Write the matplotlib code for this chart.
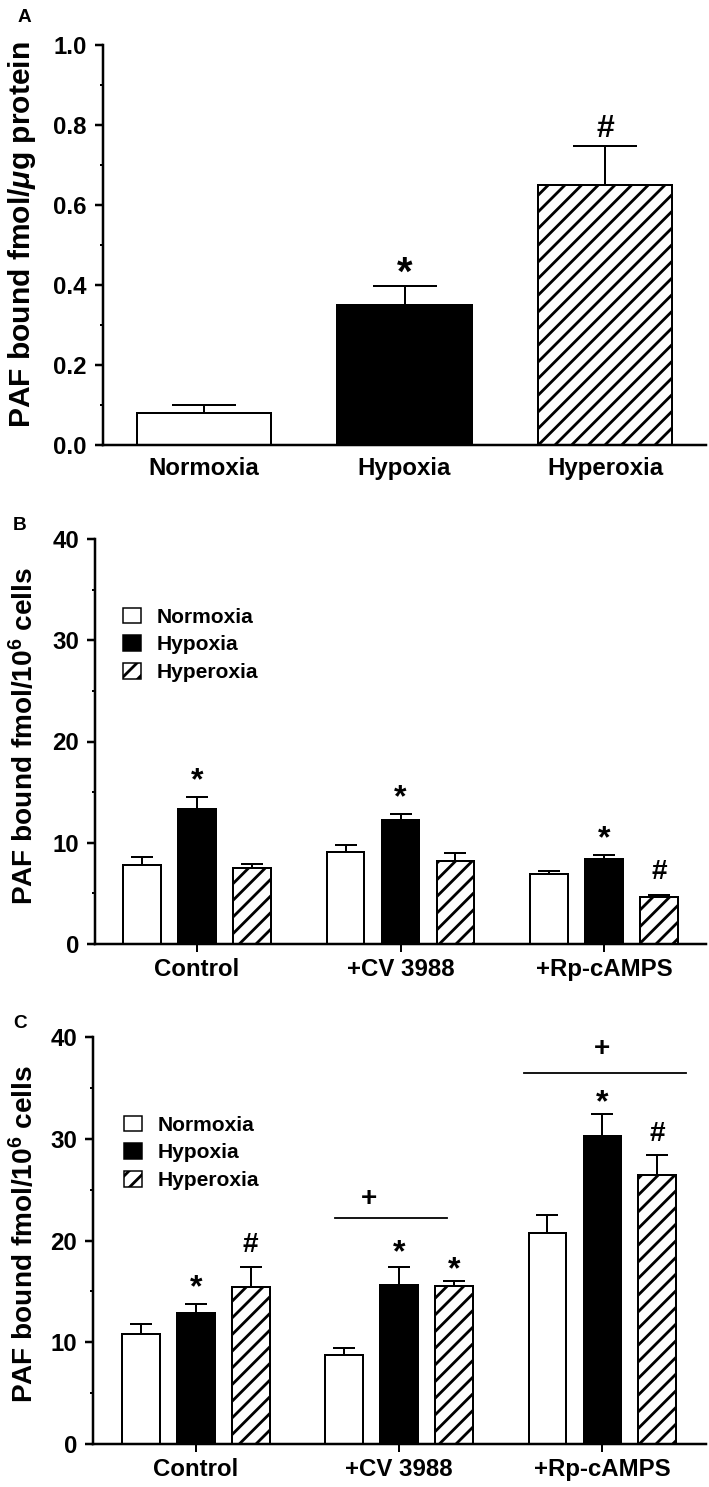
import numpy as np
import matplotlib
matplotlib.use("Agg")
import matplotlib.pyplot as plt
from matplotlib.patches import Patch

DPI = 50
S = 72 / DPI  # pixels -> points

plt.rcParams['font.family'] = ['Liberation Sans', 'DejaVu Sans']
plt.rcParams['font.weight'] = 'bold'
plt.rcParams['mathtext.fontset'] = 'custom'
plt.rcParams['mathtext.it'] = 'Liberation Sans:italic:bold'
plt.rcParams['mathtext.rm'] = 'Liberation Sans:bold'
plt.rcParams['hatch.linewidth'] = 2.8 * S
plt.rcParams['hatch.color'] = 'black'

# panel A
a_labels = ['Normoxia', 'Hypoxia', 'Hyperoxia']
a_vals = [0.081, 0.35, 0.65]
a_err = [0.018, 0.048, 0.098]
a_marks = [(1, 0.45, '*'), (2, 0.79, '#')]

# panels B and C
groups = ['Control', '+CV 3988', '+Rp-cAMPS']
series = ['Normoxia', 'Hypoxia', 'Hyperoxia']
b_vals = {'Normoxia': [7.8, 9.1, 6.9],
          'Hypoxia': [13.3, 12.2, 8.4],
          'Hyperoxia': [7.5, 8.2, 4.6]}
b_err = {'Normoxia': [0.75, 0.7, 0.35],
         'Hypoxia': [1.2, 0.6, 0.35],
         'Hyperoxia': [0.4, 0.8, 0.2]}
b_marks = [(0, 16.8, '*'), (1, 15.1, '*'), (2, 11.0, '*'), (2.27, 7.1, '#')]

c_vals = {'Normoxia': [10.8, 8.75, 20.7],
          'Hypoxia': [12.9, 15.6, 30.3],
          'Hyperoxia': [15.4, 15.5, 26.4]}
c_err = {'Normoxia': [1.0, 0.7, 1.8],
         'Hypoxia': [0.9, 1.8, 2.1],
         'Hyperoxia': [2.0, 0.5, 2.0]}
c_marks = [(0, 16.0, '*'), (0.27, 19.6, '#'), (1, 19.4, '*'), (1.27, 17.8, '*'),
           (2, 34.2, '*'), (2.27, 30.5, '#'), (0.85, 24.1, '+'), (2, 38.8, '+')]
c_lines = [(0.683, 1.238, 22.2), (1.617, 2.41, 36.5)]

styles = {'Normoxia': dict(facecolor='white', hatch=None),
          'Hypoxia': dict(facecolor='black', hatch=None),
          'Hyperoxia': dict(facecolor='white', hatch='/')}

W, H = 709, 1487
fig = plt.figure(figsize=(W / DPI, H / DPI), dpi=DPI)


def rect(left, right, y0, ytop):
    return [left / W, 1 - y0 / H, (right - left) / W, (y0 - ytop) / H]


def style_axis(ax):
    ax.spines['top'].set_visible(False)
    ax.spines['right'].set_visible(False)
    ax.spines['left'].set_linewidth(2.5 * S)
    ax.spines['bottom'].set_linewidth(2.5 * S)
    ax.tick_params(axis='y', which='major', length=8 * S, width=2.5 * S, pad=8 * S, labelsize=24 * S)
    ax.tick_params(axis='y', which='minor', length=3 * S, width=2 * S)


def mark(ax, x, y, s, size):
    # asterisks sit high in the text box, pull them down a bit
    dy = -0.22 * size * S if s == '*' else 0
    ax.annotate(s, (x, y), xytext=(0, dy), textcoords='offset points',
                ha='center', va='center', fontsize=size * S, fontweight='bold')


# ---- A ----
axA = fig.add_axes(rect(103, 706, 445, 45))
xa = np.arange(3)
axA.bar(xa, a_vals, 0.67, color=['white', 'black', 'white'], edgecolor='black',
        linewidth=2 * S, hatch=[None, None, '/'], zorder=2)
axA.errorbar(xa, a_vals, yerr=[np.zeros(3), a_err], fmt='none', ecolor='black',
             elinewidth=2 * S, capsize=32 * S, capthick=2 * S, zorder=1)
axA.set_xlim(-0.504, 2.504)
axA.set_ylim(0, 1.0)
axA.set_yticks(np.arange(0, 1.01, 0.2))
axA.set_yticks(np.arange(0.1, 1.0, 0.2), minor=True)
axA.yaxis.set_major_formatter(matplotlib.ticker.FormatStrFormatter('%.1f'))
axA.set_xticks(xa)
axA.set_xticklabels(a_labels)
style_axis(axA)
axA.tick_params(axis='x', length=0, pad=12 * S, labelsize=24 * S)
for x, y, s in a_marks:
    mark(axA, x, y, s, 40 if s == '*' else 32)
axA.set_ylabel('PAF bound fmol/$\\mu$g protein', fontsize=30 * S, fontweight='bold', va='center')
axA.yaxis.set_label_coords((22 - 103) / 603, (445 - 235) / 400)
fig.text(18 / W, 1 - 17 / H, 'A', fontsize=19 * S, fontweight='bold', ha='left', va='center')


def grouped(ax, vals, errs, marks, legend_xy):
    xg = np.arange(len(groups))
    offs = [-0.27, 0, 0.27]
    for k, s in enumerate(series):
        st = styles[s]
        ax.bar(xg + offs[k], vals[s], 0.185, color=st['facecolor'], edgecolor='black',
               linewidth=2 * S, hatch=st['hatch'], zorder=2)
        ax.errorbar(xg + offs[k], vals[s], yerr=[np.zeros(3), errs[s]], fmt='none',
                    ecolor='black', elinewidth=2 * S, capsize=11 * S, capthick=2 * S, zorder=1)
    ax.set_ylim(0, 40)
    ax.set_yticks([0, 10, 20, 30, 40])
    ax.set_yticks([5, 15, 25, 35], minor=True)
    ax.set_xticks(xg)
    ax.set_xticklabels(groups)
    style_axis(ax)
    ax.tick_params(axis='x', length=8 * S, width=2 * S, pad=6 * S, labelsize=24 * S)
    for x, y, s in marks:
        mark(ax, x, y, s, 32 if s == '*' else 28)
    handles = [Patch(facecolor=styles[s]['facecolor'], edgecolor='black', linewidth=1.5 * S,
                     hatch=styles[s]['hatch'], label=s) for s in series]
    ax.legend(handles=handles, loc='upper left', frameon=False, borderpad=0,
              bbox_to_anchor=(legend_xy[0] / W, 1 - legend_xy[1] / H),
              bbox_transform=fig.transFigure, fontsize=21 * S, handlelength=0.86,
              handleheight=0.76, handletextpad=0.75, labelspacing=0.42)
    ax.set_ylabel('PAF bound fmol/10$^{6}$ cells', fontsize=28 * S, fontweight='bold', va='center')


# ---- B ----
axB = fig.add_axes(rect(95, 706, 944, 539))
grouped(axB, b_vals, b_err, b_marks, (112, 597))
axB.set_xlim(-0.50, 2.50)
axB.yaxis.set_label_coords((24 - 95) / 611, (944 - 736) / 405)
fig.text(13 / W, 1 - 525 / H, 'B', fontsize=19 * S, fontweight='bold', ha='left', va='center')

# ---- C ----
axC = fig.add_axes(rect(93, 706, 1444, 1037))
grouped(axC, c_vals, c_err, c_marks, (113, 1105))
axC.set_xlim(-0.506, 2.51)
for x0, x1, y in c_lines:
    axC.plot([x0, x1], [y, y], color='black', linewidth=1.8 * S)
axC.yaxis.set_label_coords((24 - 93) / 613, (1444 - 1234) / 407)
fig.text(13 / W, 1 - 1023 / H, 'C', fontsize=19 * S, fontweight='bold', ha='left', va='center')

fig.savefig('out.png', dpi=DPI)
